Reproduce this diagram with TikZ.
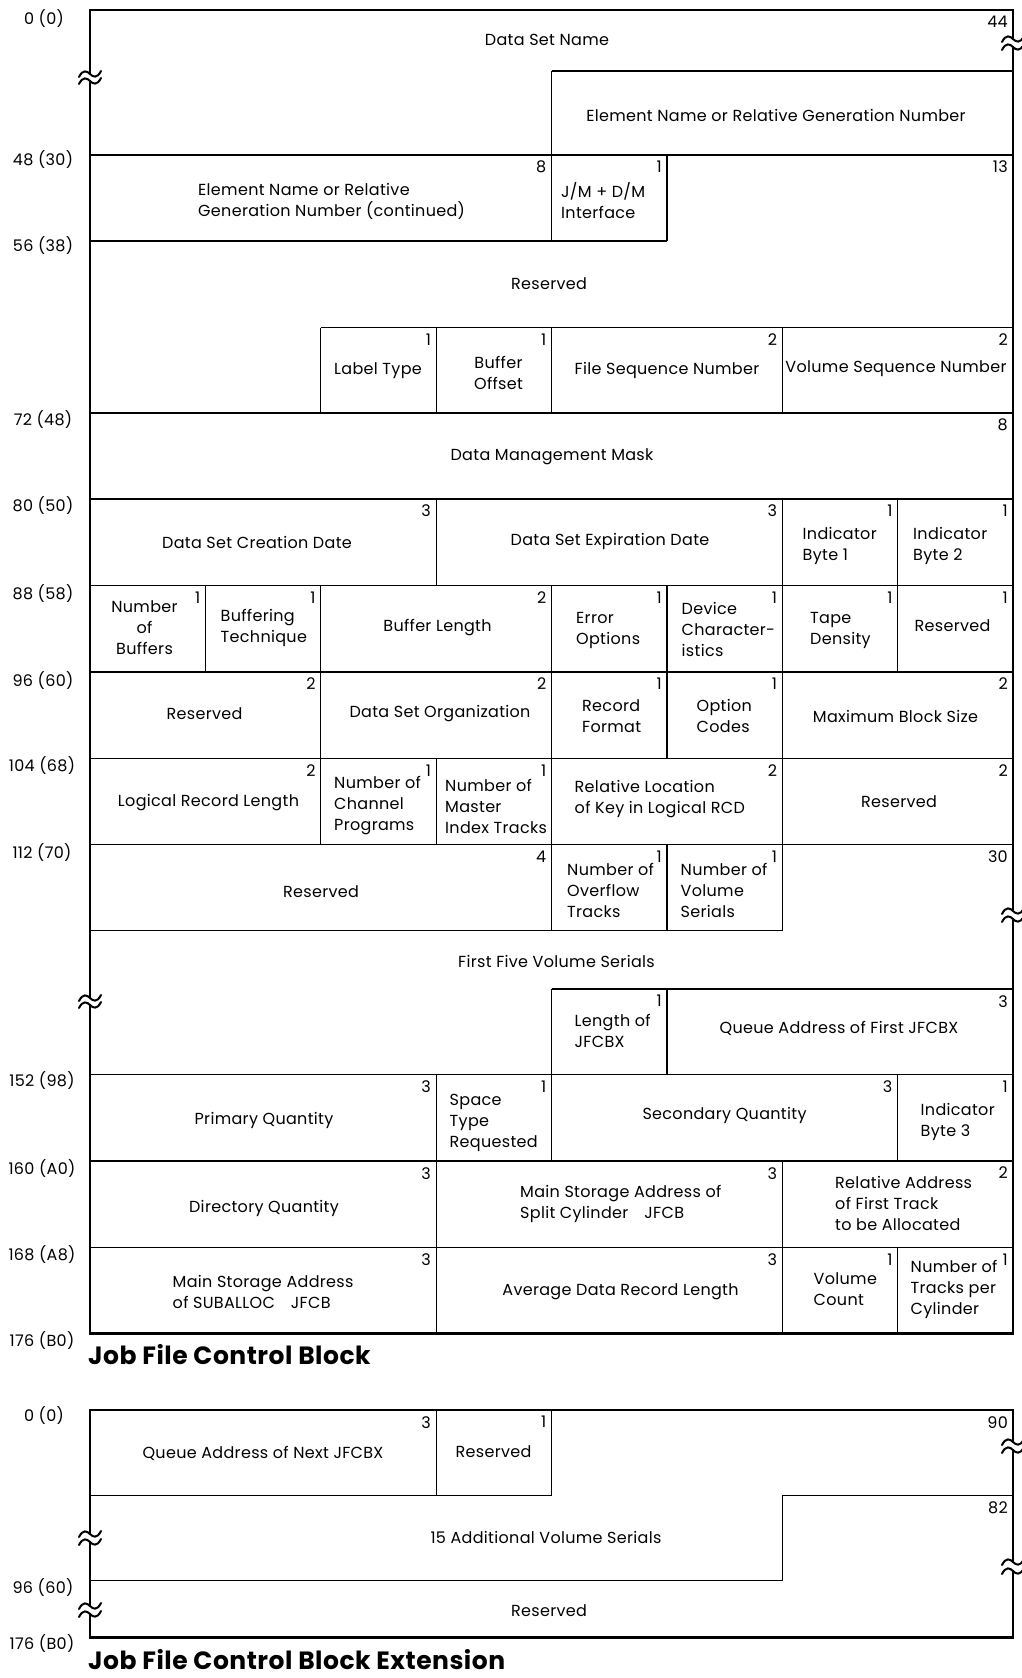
\documentclass[tikz,border=0pt]{standalone}
\usepackage{fontspec}
\setmainfont{Poppins}[LetterSpace=2]
\begin{document}
\begin{tikzpicture}[x=1pt,y=-1pt,
  outer/.style={line width=2.6pt,line cap=rect},
  inner/.style={line width=1.2pt},
  lbl/.style={font=\fontsize{16}{21}\selectfont,inner sep=0pt,align=center},
  lbll/.style={lbl,align=left,anchor=west},
  num/.style={font=\fontsize{16}{20}\selectfont,inner sep=0pt,anchor=north east},
  off/.style={font=\fontsize{16}{20}\selectfont,inner sep=0pt,anchor=center},
  ttl/.style={font=\fontsize{25}{29}\selectfont\bfseries,inner sep=0pt,anchor=west},
  brk/.pic={\draw[line width=2pt,line cap=round]
     (-11,3) .. controls (-7,-5) and (-3,-3) .. (0,0)
     .. controls (3,3) and (7,5) .. (11,-3);}]
\useasboundingbox (0,0) rectangle (1021,1678);

% column and row positions (points)
\def\XA{90}\def\XB{205.4}\def\XC{320.75}\def\XD{436.1}\def\XE{551.5}
\def\XF{666.9}\def\XG{782.25}\def\XH{897.6}\def\XI{1013}
\def\yTop{10}\def\yDsn{71}\def\yA{155}\def\yB{241}\def\yC{327.5}
\def\yD{413}\def\yE{499}\def\yF{585.5}\def\yG{672}\def\yH{758.5}
\def\yI{844.5}\def\yJ{930.5}\def\yK{989}\def\yL{1074.5}\def\yM{1161}
\def\yN{1247.5}\def\yO{1333.5}

% ---------------- Job File Control Block: frame ----------------
\draw[outer] (\XA,74) -- (\XA,\yTop) -- (\XI,\yTop) -- (\XI,39);
\draw[outer] (\XI,47) -- (\XI,911);
\draw[outer] (\XA,81) -- (\XA,998);
\draw[outer] (\XA,1005) -- (\XA,\yO) -- (\XI,\yO) -- (\XI,919);
\pic at (\XA,74) {brk}; \pic at (\XA,81) {brk};
\pic at (\XI,39) {brk}; \pic at (\XI,47) {brk};
\pic at (\XI,911) {brk}; \pic at (\XI,919) {brk};
\pic at (\XA,998) {brk}; \pic at (\XA,1005) {brk};

% ---------------- field boundaries ----------------
\draw[inner] (\XE,\yDsn) -- (\XI,\yDsn);
\draw[inner] (\XE,\yDsn) -- (\XE,\yB);
\draw[inner] (\XA,\yA) -- (\XI,\yA);
\draw[inner] (\XF,\yA) -- (\XF,\yB);
\draw[inner] (\XA,\yB) -- (\XF,\yB);
\draw[inner] (\XC,\yC) -- (\XI,\yC);
\foreach \c in {\XC,\XD,\XE,\XG} \draw[inner] (\c,\yC) -- (\c,\yD);
\draw[inner] (\XA,\yD) -- (\XI,\yD);
\draw[inner] (\XA,\yE) -- (\XI,\yE);
\foreach \c in {\XD,\XG,\XH} \draw[inner] (\c,\yE) -- (\c,\yF);
\draw[inner] (\XA,\yF) -- (\XI,\yF);
\foreach \c in {\XB,\XC,\XE,\XF,\XG,\XH} \draw[inner] (\c,\yF) -- (\c,\yG);
\draw[inner] (\XA,\yG) -- (\XI,\yG);
\foreach \c in {\XC,\XE,\XF,\XG} \draw[inner] (\c,\yG) -- (\c,\yH);
\draw[inner] (\XA,\yH) -- (\XI,\yH);
\foreach \c in {\XC,\XD,\XE,\XG} \draw[inner] (\c,\yH) -- (\c,\yI);
\draw[inner] (\XA,\yI) -- (\XI,\yI);
\foreach \c in {\XE,\XF,\XG} \draw[inner] (\c,\yI) -- (\c,\yJ);
\draw[inner] (\XA,\yJ) -- (\XG,\yJ);
\draw[inner] (\XE,\yK) -- (\XI,\yK);
\foreach \c in {\XE,\XF} \draw[inner] (\c,\yK) -- (\c,\yL);
\draw[inner] (\XA,\yL) -- (\XI,\yL);
\foreach \c in {\XD,\XE,\XH} \draw[inner] (\c,\yL) -- (\c,\yM);
\draw[inner] (\XA,\yM) -- (\XI,\yM);
\foreach \c in {\XD,\XG} \draw[inner] (\c,\yM) -- (\c,\yN);
\draw[inner] (\XA,\yN) -- (\XI,\yN);
\foreach \c in {\XD,\XG,\XH} \draw[inner] (\c,\yN) -- (\c,\yO);

% ---------------- offsets ----------------
\node[off] (o0)   at (44,19)     {0 (0)};
\node[off] (o48)  at (43,159.5)  {48 (30)};
\node[off] (o56)  at (43,246)    {56 (38)};
\node[off] (o72)  at (43,419.5)  {72 (48)};
\node[off] (o80)  at (43,506)    {80 (50)};
\node[off] (o88)  at (43,594)    {88 (58)};
\node[off] (o96)  at (43,680.5)  {96 (60)};
\node[off] (o104) at (42,766)    {104 (68)};
\node[off] (o112) at (42,853)    {112 (70)};
\node[off] (o152) at (42,1081)   {152 (98)};
\node[off] (o160) at (42,1168.5) {160 (A0)};
\node[off] (o168) at (42,1255)   {168 (A8)};
\node[off] (o176) at (42,1340)   {176 (B0)};

% ---------------- field lengths ----------------
\node[num] (n1)  at (\XI-5,\yTop+6) {44};
\node[num] (n2)  at (\XE-5,\yA+6) {8};
\node[num] (n3)  at (\XF-5,\yA+6) {1};
\node[num] (n4)  at (\XI-5,\yA+6) {13};
\node[num] (n5)  at (\XD-5,\yC+6) {1};
\node[num] (n6)  at (\XE-5,\yC+6) {1};
\node[num] (n7)  at (\XG-5,\yC+6) {2};
\node[num] (n8)  at (\XI-5,\yC+6) {2};
\node[num] (n9)  at (\XI-5,\yD+6) {8};
\node[num] (n10) at (\XD-5,\yE+6) {3};
\node[num] (n11) at (\XG-5,\yE+6) {3};
\node[num] (n12) at (\XH-5,\yE+6) {1};
\node[num] (n13) at (\XI-5,\yE+6) {1};
\node[num] (n14) at (\XB-5,\yF+6) {1};
\node[num] (n15) at (\XC-5,\yF+6) {1};
\node[num] (n16) at (\XE-5,\yF+6) {2};
\node[num] (n17) at (\XF-5,\yF+6) {1};
\node[num] (n18) at (\XG-5,\yF+6) {1};
\node[num] (n19) at (\XH-5,\yF+6) {1};
\node[num] (n20) at (\XI-5,\yF+6) {1};
\node[num] (n21) at (\XC-5,\yG+6) {2};
\node[num] (n22) at (\XE-5,\yG+6) {2};
\node[num] (n23) at (\XF-5,\yG+6) {1};
\node[num] (n24) at (\XG-5,\yG+6) {1};
\node[num] (n25) at (\XI-5,\yG+6) {2};
\node[num] (n26) at (\XC-5,\yH+6) {2};
\node[num] (n27) at (\XD-5,\yH+6) {1};
\node[num] (n28) at (\XE-5,\yH+6) {1};
\node[num] (n29) at (\XG-5,\yH+6) {2};
\node[num] (n30) at (\XI-5,\yH+6) {2};
\node[num] (n31) at (\XE-5,\yI+6) {4};
\node[num] (n32) at (\XF-5,\yI+6) {1};
\node[num] (n33) at (\XG-5,\yI+6) {1};
\node[num] (n34) at (\XI-5,\yI+6) {30};
\node[num] (n35) at (\XF-5,\yK+6) {1};
\node[num] (n36) at (\XI-5,\yK+6) {3};
\node[num] (n37) at (\XD-5,\yL+6) {3};
\node[num] (n38) at (\XE-5,\yL+6) {1};
\node[num] (n39) at (\XH-5,\yL+6) {3};
\node[num] (n40) at (\XI-5,\yL+6) {1};
\node[num] (n41) at (\XD-5,\yM+6) {3};
\node[num] (n42) at (\XG-5,\yM+6) {3};
\node[num] (n43) at (\XI-5,\yM+6) {2};
\node[num] (n44) at (\XD-5,\yN+6) {3};
\node[num] (n45) at (\XG-5,\yN+6) {3};
\node[num] (n46) at (\XH-5,\yN+6) {1};
\node[num] (n47) at (\XI-5,\yN+6) {1};

% ---------------- field names ----------------
\node[lbl]  (dsn)  at (547,39.5)   {Data Set Name};
\node[lbl]  (elm)  at (776,115.5)  {Element Name or Relative Generation Number};
\node[lbll] (elc)  at (198,201)    {Element Name or Relative\\Generation Number (continued)};
\node[lbll] (jmdm) at (561,201)    {J/M + D/M\\Interface};
\node[lbl]  (rs1)  at (549,283.5)  {Reserved};
\node[lbl]  (lbt)  at (378,371)    {Label Type};
\node[lbl]  (bfo)  at (498.5,373)  {Buffer\\Offset};
\node[lbl]  (fsn)  at (667,370)    {File Sequence Number};
\node[lbl]  (vsn)  at (896,369)    {Volume Sequence Number};
\node[lbl]  (dmm)  at (552,457)    {Data Management Mask};
\node[lbl]  (dscd) at (257,542.5)  {Data Set Creation Date};
\node[lbl]  (dsed) at (610,541.5)  {Data Set Expiration Date};
\node[lbll] (ib1)  at (802.5,546)  {Indicator\\Byte 1};
\node[lbll] (ib2)  at (913,546)    {Indicator\\Byte 2};
\node[lbl]  (nbuf) at (144.5,628)  {Number\\of\\Buffers};
\node[lbll] (btec) at (220.5,628)  {Buffering\\Technique};
\node[lbl]  (blen) at (437.5,628)  {Buffer Length};
\node[lbll] (eopt) at (576,630)    {Error\\Options};
\node[lbll] (devc) at (681.5,629)  {Device\\Character-\\istics};
\node[lbll] (tden) at (810,630)    {Tape\\Density};
\node[lbl]  (rs2)  at (952.5,626)  {Reserved};
\node[lbl]  (rs3)  at (204.5,714)  {Reserved};
\node[lbl]  (dsor) at (440,714)    {Data Set Organization};
\node[lbll] (rfmt) at (582,716)    {Record\\Format};
\node[lbll] (opcd) at (696.5,716)  {Option\\Codes};
\node[lbl]  (mbs)  at (895.5,716)  {Maximum Block Size};
\node[lbl]  (lrl)  at (208.5,802.5){Logical Record Length};
\node[lbll] (ncp)  at (334,806)    {Number of\\Channel\\Programs};
\node[lbll] (nmit) at (445,806)    {Number of\\Master\\Index Tracks};
\node[lbll] (rlk)  at (574.5,799.5){Relative Location\\of Key in Logical RCD};
\node[lbl]  (rs4)  at (899,801.5)  {Reserved};
\node[lbl]  (rs5)  at (321,891.5)  {Reserved};
\node[lbll] (nof)  at (567,890)    {Number of\\Overflow\\Tracks};
\node[lbll] (nvs)  at (680.5,890)  {Number of\\Volume\\Serials};
\node[lbl]  (ffvs) at (556.5,961)  {First Five Volume Serials};
\node[lbll] (ljx)  at (574.5,1030.5){Length of\\JFCBX};
\node[lbl]  (qafj) at (839,1028.5) {Queue Address of First JFCBX};
\node[lbl]  (prq)  at (264,1120.5) {Primary Quantity};
\node[lbll] (str)  at (449.5,1122.5){Space\\Type\\Requested};
\node[lbl]  (scq)  at (724.5,1115) {Secondary Quantity};
\node[lbll] (ib3)  at (920.5,1121.5){Indicator\\Byte 3};
\node[lbl]  (dirq) at (264,1208)   {Directory Quantity};
\node[lbll] (msas) at (520,1204)   {Main Storage Address of\\Split Cylinder\quad JFCB};
\node[lbll] (raft) at (835,1203)   {Relative Address\\of First Track\\to be Allocated};
\node[lbll] (msab) at (172.5,1291.5){Main Storage Address\\of SUBALLOC\quad JFCB};
\node[lbl]  (adrl) at (620.5,1291.5){Average Data Record Length};
\node[lbll] (vcnt) at (813.5,1289.5){Volume\\Count};
\node[lbll] (ntpc) at (910.5,1289.5){Number of\\Tracks per\\Cylinder};

\node[ttl] (t1) at (88,1355) {Job File Control Block};

% ---------------- Job File Control Block Extension ----------------
\def\eTop{1410}\def\eA{1495.5}\def\eB{1580.7}\def\eBot{1637.7}
\draw[outer] (\XA,1534) -- (\XA,\eTop) -- (\XI,\eTop) -- (\XI,1442);
\draw[outer] (\XI,1450) -- (\XI,1562);
\draw[outer] (\XA,1542) -- (\XA,1606);
\draw[outer] (\XA,1614) -- (\XA,\eBot) -- (\XI,\eBot) -- (\XI,1571);
\pic at (\XA,1534) {brk}; \pic at (\XA,1542) {brk};
\pic at (\XA,1606) {brk}; \pic at (\XA,1614) {brk};
\pic at (\XI,1442) {brk}; \pic at (\XI,1450) {brk};
\pic at (\XI,1562) {brk}; \pic at (\XI,1571) {brk};

\draw[inner] (\XD,\eTop) -- (\XD,\eA);
\draw[inner] (\XE,\eTop) -- (\XE,\eA) -- (\XA,\eA);
\draw[inner] (\XI,\eA) -- (\XG,\eA) -- (\XG,\eB) -- (\XA,\eB);

\node[off] (x0)   at (44,1415)  {0 (0)};
\node[off] (x96)  at (43,1587)  {96 (60)};
\node[off] (x176) at (42,1643)  {176 (B0)};

\node[num] (m1) at (\XD-5,\eTop+6) {3};
\node[num] (m2) at (\XE-5,\eTop+6) {1};
\node[num] (m3) at (\XI-5,\eTop+6) {90};
\node[num] (m4) at (\XI-5,\eA+6) {82};

\node[lbl] (qanj) at (263,1453)   {Queue Address of Next JFCBX};
\node[lbl] (rs6)  at (493.5,1452) {Reserved};
\node[lbl] (avs)  at (546,1537)   {15 Additional Volume Serials};
\node[lbl] (rs7)  at (549,1610.5) {Reserved};

\node[ttl] (t2) at (88,1660) {Job File Control Block Extension};
\end{tikzpicture}
\end{document}
